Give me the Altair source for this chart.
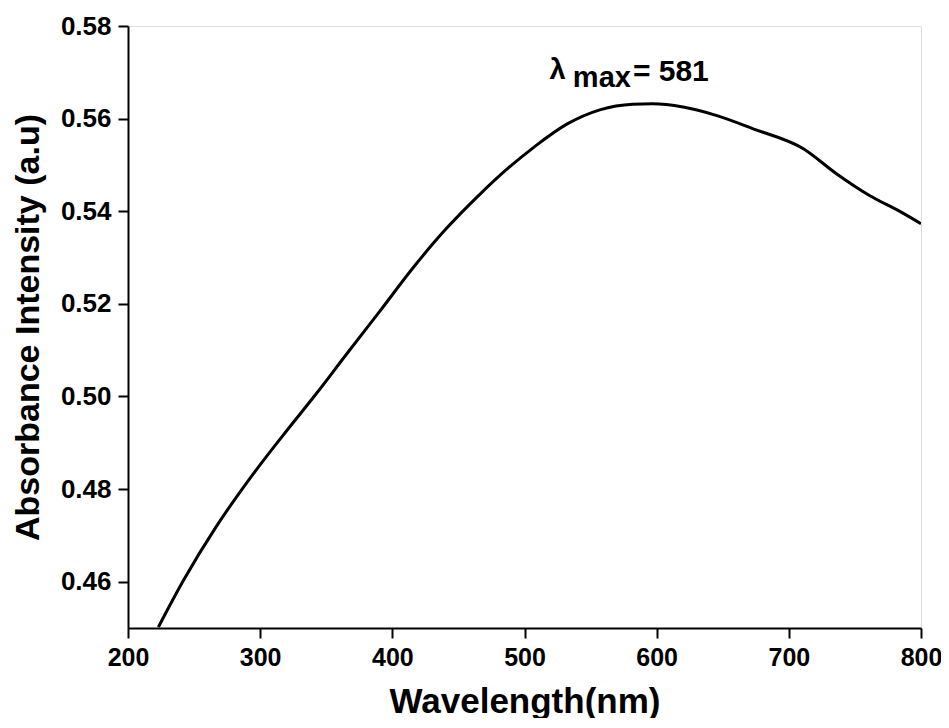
import altair as alt
import pandas as pd

wavelength = [223, 242, 267, 292, 317, 343, 365, 390, 416, 441, 466, 488, 507, 532, 557,
              582, 597, 620, 645, 673, 711, 736, 761, 785, 800]
absorbance = [0.4502, 0.4603, 0.4720, 0.4822, 0.4915, 0.5008, 0.5090, 0.5182, 0.5279, 0.5363,
              0.5436, 0.5494, 0.5538, 0.5588, 0.5619, 0.5631, 0.5632, 0.5625, 0.5607, 0.5578,
              0.5535, 0.5481, 0.5434, 0.5398, 0.5373]

x_ticks = [200, 300, 400, 500, 600, 700, 800]
y_ticks = [0.46, 0.48, 0.50, 0.52, 0.54, 0.56, 0.58]

ann_text = ["λ", "max", "= 581"]
ann_x = [519, 536.6, 582]
ann_y = [0.5686, 0.5668, 0.5681]
ann_size = [29, 29, 30]

df = pd.DataFrame({"wl": wavelength, "abs": absorbance})
ann = pd.DataFrame({"t": ann_text, "x": ann_x, "y": ann_y, "s": ann_size})

FONT = "Liberation Sans"

xscale = alt.Scale(domain=[200, 800], nice=False, zero=False)
yscale = alt.Scale(domain=[0.45, 0.58], nice=False, zero=False)

line = alt.Chart(df).mark_line(color="black", strokeWidth=3, interpolate="monotone", clip=True).encode(
    x=alt.X("wl:Q", scale=xscale,
            axis=alt.Axis(values=x_ticks, title="Wavelength(nm)", format="d",
                          labelFontSize=25, labelFont=FONT, labelFontWeight="bold", labelColor="black",
                          titleFontSize=35, titleFont=FONT, titleFontWeight="bold", titleColor="black",
                          tickSize=10, tickWidth=2, tickColor="black", domainColor="black", domainWidth=2,
                          labelPadding=7, titlePadding=14, grid=False, labelFlush=False)),
    y=alt.Y("abs:Q", scale=yscale,
            axis=alt.Axis(values=y_ticks, title="Absorbance Intensity (a.u)", format=".2f",
                          labelFontSize=26, labelFont=FONT, labelFontWeight="bold", labelColor="black",
                          titleFontSize=34, titleFont=FONT, titleFontWeight="bold", titleColor="black",
                          tickSize=10, tickWidth=2, tickColor="black", domainColor="black", domainWidth=2,
                          labelPadding=7, titlePadding=15, grid=False, labelFlush=False)),
)

text = alt.Chart(ann).mark_text(color="black", font=FONT, fontWeight="bold", align="left",
                                baseline="alphabetic").encode(
    x=alt.X("x:Q", scale=xscale),
    y=alt.Y("y:Q", scale=yscale),
    text="t:N",
    size=alt.Size("s:Q", scale=None, legend=None),
)

chart = (line + text).properties(
    width=793, height=602,
    autosize=alt.AutoSizeParams(type="none"),
    padding={"left": 120, "top": 18, "right": 20, "bottom": 90},
).configure_view(stroke="black", strokeWidth=2).configure(background="white")

chart.save("out.html", embed_options={"renderer": "svg", "actions": False})
